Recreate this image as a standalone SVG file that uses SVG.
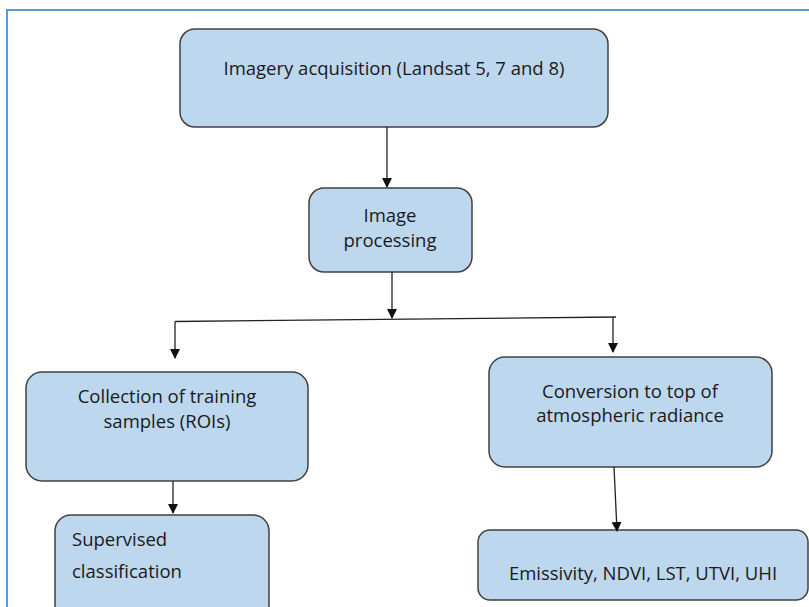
<svg xmlns="http://www.w3.org/2000/svg" width="809" height="607" viewBox="0 0 809 607">
<style>
.node{fill:#bdd7ee;stroke:#404040;stroke-width:1.5}
.t{font-family:"Open Sans","Noto Sans",sans-serif;font-size:18.5px;fill:#1a1a1a}
.c{text-anchor:middle}
.conn{fill:none;stroke:#222;stroke-width:1.3}
</style>
<defs>
<marker id="ah" markerWidth="10" markerHeight="10" refX="9" refY="5" orient="auto" markerUnits="userSpaceOnUse">
<path d="M0,0 L10,5 L0,10 Z" fill="#111"/>
</marker>
</defs>
<rect width="809" height="607" fill="#fff"/>
<path d="M7,620 V10 H820" fill="none" stroke="#5b9bd5" stroke-width="2"/>
<g id="n1">
<rect class="node" x="180" y="29" width="428" height="98" rx="15"/>
<text class="t c" x="394" y="75">Imagery acquisition (Landsat 5, 7 and 8)</text>
</g>
<g id="n2">
<rect class="node" x="309" y="188" width="163" height="84" rx="15"/>
<text class="t c" x="390" y="222">Image</text>
<text class="t c" x="390" y="247">processing</text>
</g>
<g id="n3">
<rect class="node" x="26" y="372" width="282" height="109" rx="16"/>
<text class="t c" x="167" y="403">Collection of training</text>
<text class="t c" x="167" y="428">samples (ROIs)</text>
</g>
<g id="n4">
<rect class="node" x="55" y="515" width="214" height="110" rx="16"/>
<text class="t" x="72" y="546">Supervised</text>
<text class="t" x="72" y="578">classification</text>
</g>
<g id="n5">
<rect class="node" x="489" y="357" width="283" height="110" rx="16"/>
<text class="t c" x="630" y="398">Conversion to top of</text>
<text class="t c" x="630" y="422">atmospheric radiance</text>
</g>
<g id="n6">
<rect class="node" x="478" y="530" width="330" height="70" rx="12"/>
<text class="t c" x="643" y="580">Emissivity, NDVI, LST, UTVI, UHI</text>
</g>
<g id="connectors">
<line class="conn" x1="387" y1="127" x2="387" y2="187" marker-end="url(#ah)"/>
<line class="conn" x1="392" y1="272" x2="392" y2="318" marker-end="url(#ah)"/>
<line class="conn" x1="175" y1="321.5" x2="616" y2="317"/>
<line class="conn" x1="175" y1="321.5" x2="175" y2="358" marker-end="url(#ah)"/>
<line class="conn" x1="613" y1="317" x2="613" y2="352" marker-end="url(#ah)"/>
<line class="conn" x1="173" y1="481" x2="173" y2="513" marker-end="url(#ah)"/>
<line class="conn" x1="614" y1="467" x2="617" y2="531" marker-end="url(#ah)"/>
</g>
</svg>
